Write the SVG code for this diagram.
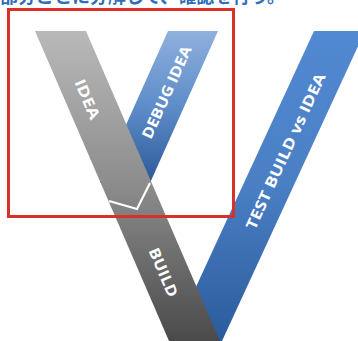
<svg xmlns="http://www.w3.org/2000/svg" width="358" height="341" viewBox="0 0 358 341">
  <defs>
    <linearGradient id="gGray" x1="0" y1="31" x2="0" y2="341" gradientUnits="userSpaceOnUse">
      <stop offset="0" stop-color="#b9b9b9"/>
      <stop offset="0.5" stop-color="#8c8c8c"/>
      <stop offset="1" stop-color="#4a4a4a"/>
    </linearGradient>
    <linearGradient id="gDebug" x1="0" y1="31" x2="0" y2="183" gradientUnits="userSpaceOnUse">
      <stop offset="0" stop-color="#8eb0dc"/>
      <stop offset="0.5" stop-color="#5d8cc9"/>
      <stop offset="1" stop-color="#2c5a98"/>
    </linearGradient>
    <linearGradient id="gTest" x1="0" y1="31" x2="0" y2="341" gradientUnits="userSpaceOnUse">
      <stop offset="0" stop-color="#5189d2"/>
      <stop offset="0.5" stop-color="#4a7fc4"/>
      <stop offset="1" stop-color="#2b5b9b"/>
    </linearGradient>
  </defs>
  <style>
    .lbl { font-family: "Open Sans", "Liberation Sans", sans-serif; font-weight: bold; fill: #ffffff; text-anchor: middle; dominant-baseline: central; }
    .title { font-family: "Noto Sans CJK JP", "Liberation Sans", sans-serif; fill: #2f6fba; font-weight: bold; }
  </style>
  <rect width="358" height="341" fill="#ffffff"/>
  <text class="title" x="0" y="2.5" font-size="18" textLength="285" lengthAdjust="spacingAndGlyphs">部分ごとに分解して、確認を行う。</text>

  <g id="test-build-vs-idea">
    <polygon points="314,31 365,31 222,341 171,341" fill="url(#gTest)"/>
    <text class="lbl" font-size="15" transform="translate(285,151) rotate(-65.3)" textLength="170" lengthAdjust="spacingAndGlyphs">TEST BUILD vs IDEA</text>
  </g>

  <g id="debug-idea">
    <polygon points="168,31 218,31 150,183 100,183" fill="url(#gDebug)"/>
    <text class="lbl" font-size="15" transform="translate(166,92) rotate(-65.8)" textLength="100" lengthAdjust="spacingAndGlyphs">DEBUG IDEA</text>
  </g>

  <g id="idea-build">
    <polygon points="35,31 86,31 220,341 169,341" fill="url(#gGray)"/>
    <text class="lbl" font-size="15" transform="translate(88,99) rotate(66.6)" textLength="42" lengthAdjust="spacingAndGlyphs">IDEA</text>
    <text class="lbl" font-size="15" transform="translate(164,272) rotate(66.6)" textLength="52" lengthAdjust="spacingAndGlyphs">BUILD</text>
  </g>

  <g id="connectors">
    <polyline points="109,201 137,209 150,183" fill="none" stroke="#ffffff" stroke-width="2.2"/>
  </g>

  <g id="highlight">
    <rect x="8.5" y="9.5" width="225" height="207" fill="none" stroke="#d9302a" stroke-width="3"/>
  </g>
</svg>
